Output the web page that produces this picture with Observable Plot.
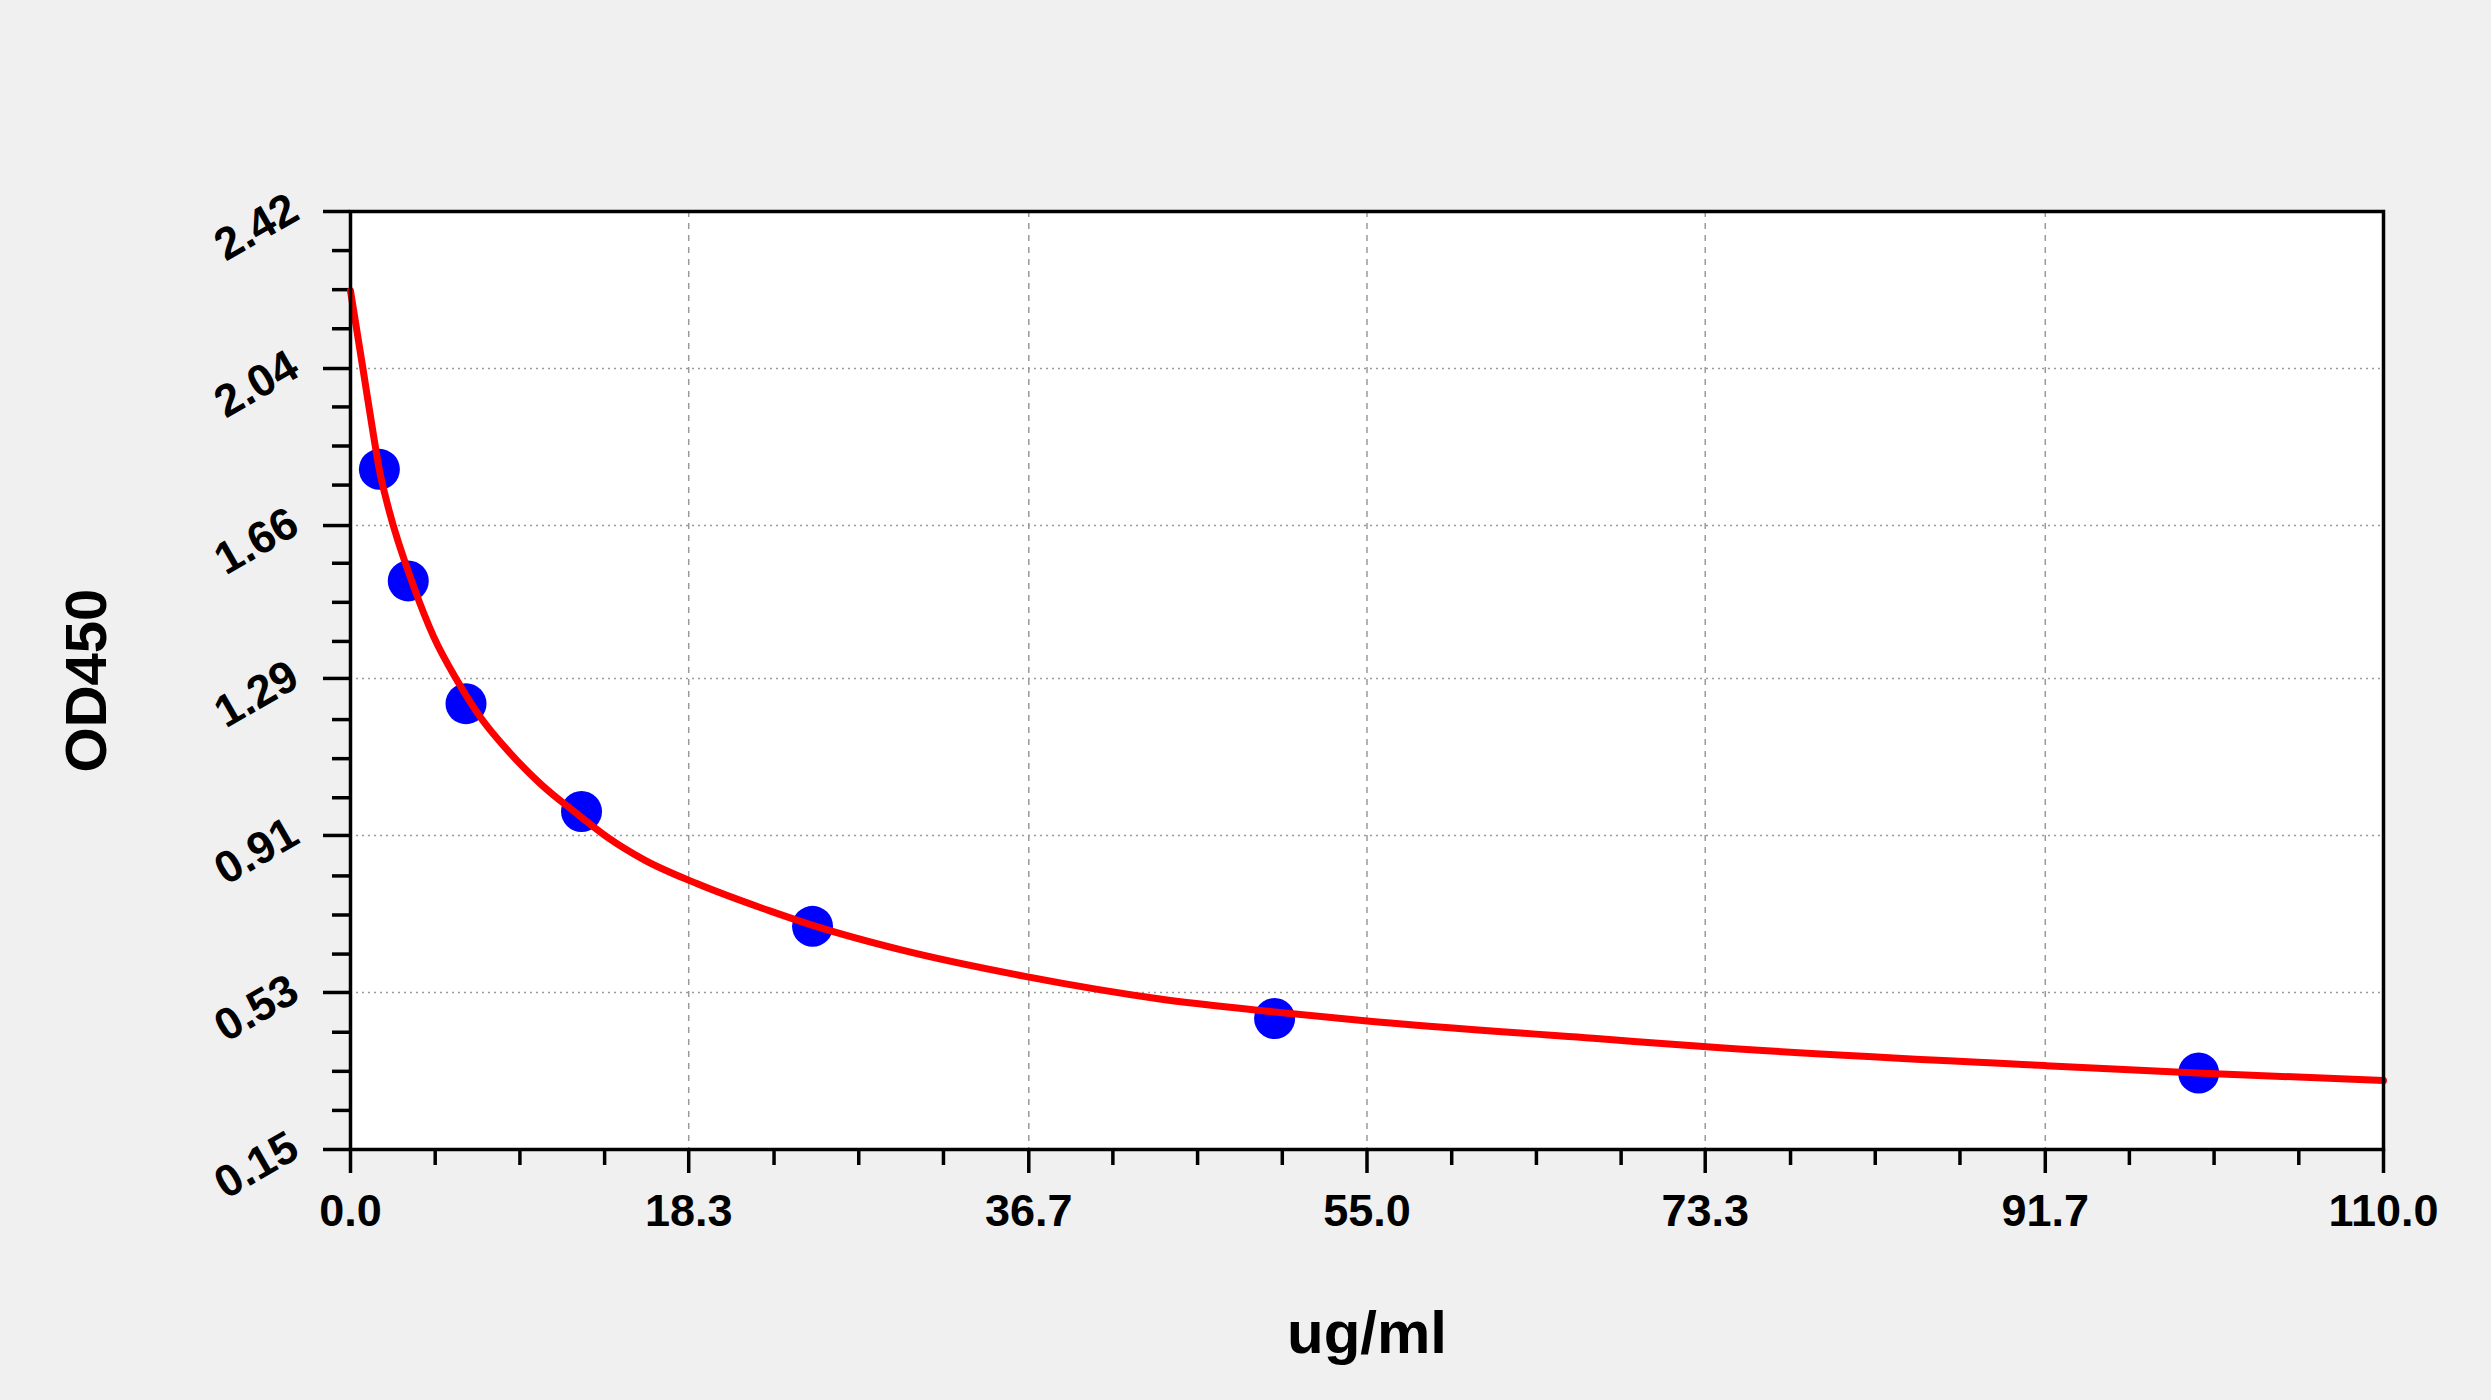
<!DOCTYPE html>
<html>
<head>
<meta charset="utf-8">
<script src="https://cdn.jsdelivr.net/npm/d3@7"></script>
<script src="https://cdn.jsdelivr.net/npm/@observablehq/plot@0.6"></script>
<style>
  html, body { margin: 0; padding: 0; background: #f0f0f0; }
  #chart svg { display: block; }
</style>
</head>
<body>
<div id="chart"></div>
<script>
// Standard points (concentration ug/ml, OD450)
const pointX = [1.5625, 3.125, 6.25, 12.5, 25, 50, 100];
const pointY = [1.796, 1.526, 1.229, 0.968, 0.690, 0.467, 0.335];

// Fitted curve
const curveX = [0, 0.69, 1.26, 1.57, 1.99, 3.43, 4.51, 5.77, 7.03, 8.66, 10.28, 12.27, 13.89, 15.89, 18.77, 22.65, 24.97, 29.8, 36.5, 43.7, 50.0, 55.0, 67.6, 73.2, 91.7, 99.9, 110];
const curveY = [2.228, 2.035, 1.874, 1.793, 1.713, 1.511, 1.390, 1.285, 1.196, 1.108, 1.035, 0.962, 0.906, 0.851, 0.793, 0.728, 0.693, 0.633, 0.569, 0.515, 0.483, 0.461, 0.418, 0.399, 0.353, 0.335, 0.317];

// Axes
const xTicks = [0, 18.3, 36.7, 55, 73.3, 91.7, 110];
const xTickLabels = ["0.0", "18.3", "36.7", "55.0", "73.3", "91.7", "110.0"];
const yTicks = [0.15, 0.53, 0.91, 1.29, 1.66, 2.04, 2.42];
const yTickLabels = ["0.15", "0.53", "0.91", "1.29", "1.66", "2.04", "2.42"];
const xLabel = "ug/ml";
const yLabel = "OD450";

const points = pointX.map((x, i) => ({x, y: pointY[i]}));
const curve = curveX.map((x, i) => ({x, y: curveY[i]}));

// minor ticks: 4 subdivisions between majors
const xStep = (xTicks[xTicks.length - 1] - xTicks[0]) / (xTicks.length - 1);
const yStep = (yTicks[yTicks.length - 1] - yTicks[0]) / (yTicks.length - 1);
const xMinor = [], yMinor = [];
for (let i = 0; i < xTicks.length - 1; i++) for (let k = 1; k < 4; k++) xMinor.push(xTicks[0] + xStep * (i + k / 4));
for (let i = 0; i < yTicks.length - 1; i++) for (let k = 1; k < 4; k++) yMinor.push(yTicks[0] + yStep * (i + k / 4));

const font = "'Liberation Sans', Arial, Helvetica, sans-serif";

const chart = Plot.plot({
  width: 2491,
  height: 1400,
  marginLeft: 350,
  marginRight: 108,
  marginTop: 211,
  marginBottom: 251,
  style: {background: "transparent", fontFamily: font, color: "black"},
  x: {domain: [0, 110]},
  y: {domain: [0.15, 2.42]},
  marks: [
    Plot.frame({fill: "white", stroke: null}),
    Plot.gridX(xTicks.slice(1, -1), {stroke: "#9a9a9a", strokeOpacity: 1, strokeWidth: 1.5, strokeDasharray: "6,6"}),
    Plot.gridY(yTicks.slice(1, -1), {stroke: "#9a9a9a", strokeOpacity: 1, strokeWidth: 1.5, strokeDasharray: "2,4"}),
    Plot.axisX({ticks: xTicks, tickSize: 24, tickPadding: 21, strokeWidth: 3.5, fontSize: 45, fontWeight: "bold",
      tickFormat: (d, i) => xTickLabels[i], label: null}),
    Plot.axisX({ticks: xMinor, tickSize: 16, strokeWidth: 3.5, tickFormat: () => "", label: null}),
    Plot.axisY({ticks: yTicks, tickSize: 27, strokeWidth: 3.5, tickFormat: () => "", label: null}),
    Plot.axisY({ticks: yMinor, tickSize: 18, strokeWidth: 3.5, tickFormat: () => "", label: null}),
    Plot.text(yTicks, {y: d => d, frameAnchor: "left", text: (d, i) => yTickLabels[i], dx: -56, dy: -6,
      rotate: -30, textAnchor: "end", lineAnchor: "middle", fontSize: 45, fontWeight: "bold", fill: "black"}),
    Plot.dot(points, {x: "x", y: "y", r: 20.5, fill: "#0000ff", stroke: null}),
    Plot.line(curve, {x: "x", y: "y", stroke: "#ff0000", strokeWidth: 7, curve: "monotone-x"}),
    Plot.frame({stroke: "black", strokeWidth: 3.5}),
    Plot.text([yLabel], {frameAnchor: "left", dx: -263, rotate: -90, textAnchor: "middle", lineAnchor: "middle",
      fontSize: 58, fontWeight: "bold", fill: "black"}),
    Plot.text([xLabel], {frameAnchor: "bottom", dy: 184, textAnchor: "middle", lineAnchor: "middle",
      fontSize: 60, fontWeight: "bold", fill: "black"})
  ]
});
document.getElementById("chart").appendChild(chart);
</script>
</body>
</html>
